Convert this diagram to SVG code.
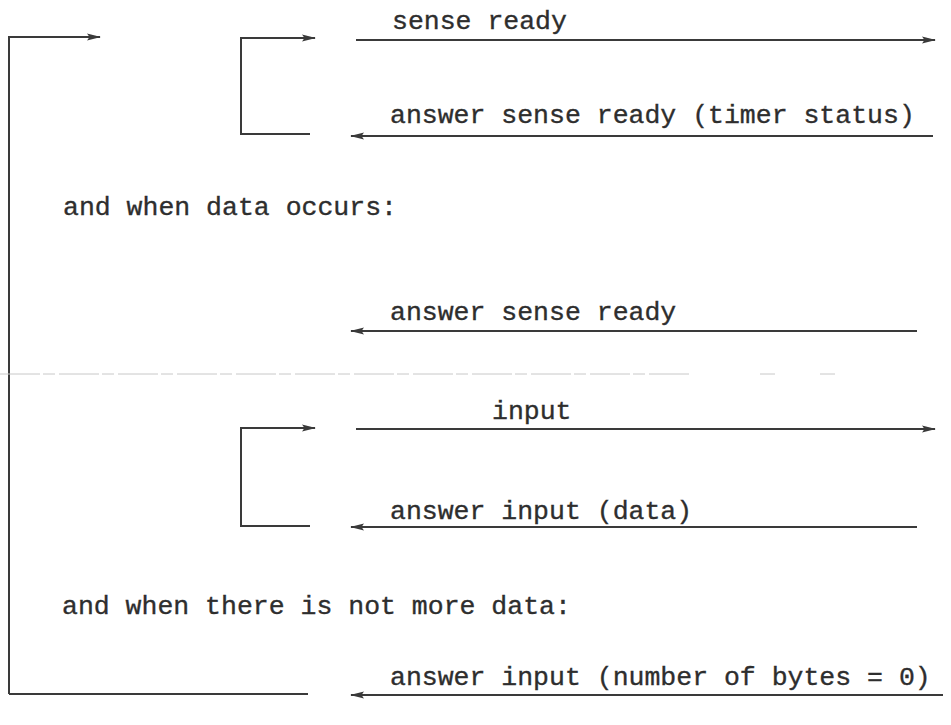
<svg xmlns="http://www.w3.org/2000/svg" width="951" height="725" viewBox="0 0 951 725">
<defs>
<marker id="ah" viewBox="0 0 14 8" refX="13" refY="4" markerWidth="15" markerHeight="8" markerUnits="userSpaceOnUse" orient="auto">
<path d="M0,0.6 L14,4 L0,7.4 L2.5,4 Z" fill="#3a3a3a"/>
</marker>
<style>
.ln{fill:none;stroke:#3a3a3a;stroke-width:2}
.ar{fill:none;stroke:#3a3a3a;stroke-width:2;marker-end:url(#ah)}
.t{font-family:"Liberation Mono","DejaVu Sans Mono",monospace;font-size:26.5px;fill:#2e2e2e;stroke:#2e2e2e;stroke-width:0.35}
.scan{fill:none;stroke:#c8c8c8;stroke-width:1;stroke-dasharray:40 3 12 4}
</style>
</defs>
<rect width="951" height="725" fill="#fff"/>
<g id="connectors">
<path id="outer-loop-top" class="ar" d="M9,694 L9,37 L100,37"/>
<path id="outer-loop-bottom" class="ln" d="M9,694 L308,694"/>
<path id="bracket1" class="ar" d="M310,134 L241,134 L241,38 L315,38"/>
<path id="bracket2" class="ar" d="M310,526 L241,526 L241,428 L315,428"/>
<line id="sense-ready" class="ar" x1="356" y1="40" x2="935" y2="40"/>
<line id="answer-timer" class="ar" x1="933" y1="136" x2="351" y2="136"/>
<line id="answer-sense" class="ar" x1="917" y1="331" x2="351" y2="331"/>
<line id="input" class="ar" x1="356" y1="429" x2="935" y2="429"/>
<line id="answer-data" class="ar" x1="917" y1="527" x2="351" y2="527"/>
<line id="answer-zero" class="ar" x1="943" y1="695" x2="351" y2="695"/>
<path class="scan" d="M0,374 L690,374 M760,374 L775,374 M820,374 L835,374"/>
</g>
<g id="label-sense-ready"><text class="t" x="392" y="29">sense ready</text></g>
<g id="label-answer-timer"><text class="t" x="390" y="123">answer sense ready (timer status)</text></g>
<g id="label-data-occurs"><text class="t" x="63" y="215">and when data occurs:</text></g>
<g id="label-answer-sense"><text class="t" x="390" y="320">answer sense ready</text></g>
<g id="label-input"><text class="t" x="492" y="419">input</text></g>
<g id="label-answer-data"><text class="t" x="390" y="519">answer input (data)</text></g>
<g id="label-no-more"><text class="t" x="62" y="614">and when there is not more data:</text></g>
<g id="label-answer-zero"><text class="t" x="390" y="685">answer input (number of bytes = 0)</text></g>
</svg>
